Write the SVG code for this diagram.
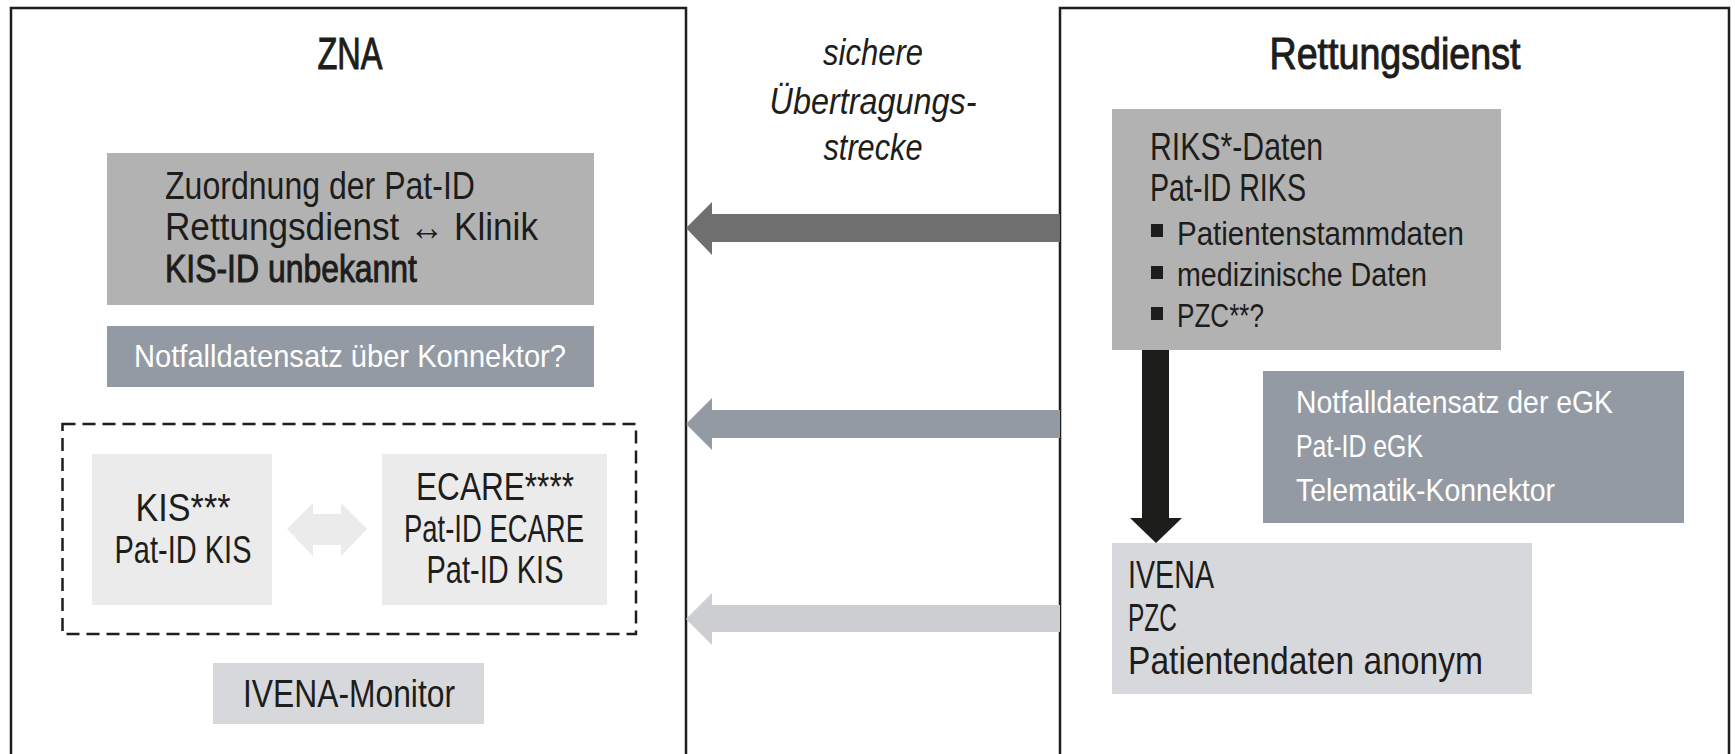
<svg xmlns="http://www.w3.org/2000/svg" width="1735" height="754" viewBox="0 0 1735 754">
<style>
  text { font-family: "Liberation Sans Narrow", "Liberation Sans", Arial, sans-serif; fill: #1d1d1b; }
  .frame { fill: none; stroke: #1d1d1b; stroke-width: 2.5; }
  .title { font-size: 44px; stroke: #1d1d1b; stroke-width: 1; }
  .semi { stroke: #1d1d1b; stroke-width: 1; }
  .body { font-size: 39px; }
  .bul { font-size: 34px; }
  .wt { fill: #ffffff; font-size: 32px; }
  .ital { font-size: 37px; font-style: italic; }
  .c { text-anchor: middle; }
  .g1 { fill: #b2b2b2; }
  .g2 { fill: #949aa3; }
  .g3 { fill: #d7d8dc; }
  .g4 { fill: #ebebeb; }
</style>

<g id="frame-zna">
  <path class="frame" d="M11,760 V8 H686 V760"/>
  <text class="title c" x="350" y="69" textLength="65" lengthAdjust="spacingAndGlyphs">ZNA</text>
</g>

<g id="frame-rettungsdienst">
  <path class="frame" d="M1060,760 V8 H1729 V760"/>
  <text class="title c" x="1395" y="69" textLength="251" lengthAdjust="spacingAndGlyphs">Rettungsdienst</text>
</g>

<g id="label-strecke">
  <text class="ital c" x="873" y="65" textLength="100" lengthAdjust="spacingAndGlyphs">sichere</text>
  <text class="ital c" x="873" y="114" textLength="207" lengthAdjust="spacingAndGlyphs">Übertragungs-</text>
  <text class="ital c" x="873" y="160" textLength="99" lengthAdjust="spacingAndGlyphs">strecke</text>
</g>

<g id="node-zuordnung">
  <rect class="g1" x="107" y="153" width="487" height="152"/>
  <text class="body" x="165" y="199" textLength="310" lengthAdjust="spacingAndGlyphs">Zuordnung der Pat-ID</text>
  <text class="body" x="165" y="240" textLength="373" lengthAdjust="spacingAndGlyphs">Rettungsdienst ↔ Klinik</text>
  <text class="body semi" x="165" y="282" textLength="252" lengthAdjust="spacingAndGlyphs">KIS-ID unbekannt</text>
</g>

<g id="node-notfall-konnektor">
  <rect class="g2" x="107" y="326" width="487" height="61"/>
  <text class="wt c" x="350" y="367" textLength="432" lengthAdjust="spacingAndGlyphs">Notfalldatensatz über Konnektor?</text>
</g>

<g id="group-kis-ecare">
  <rect x="62.5" y="424" width="573.5" height="210" fill="none" stroke="#1d1d1b" stroke-width="2.5" stroke-dasharray="13 7"/>
</g>

<g id="node-kis">
  <rect class="g4" x="92" y="454" width="180" height="151"/>
  <text class="body c" x="183" y="521" font-size="38" textLength="95" lengthAdjust="spacingAndGlyphs">KIS***</text>
  <text class="body c" x="183" y="563" font-size="38" textLength="137" lengthAdjust="spacingAndGlyphs">Pat-ID KIS</text>
</g>

<g id="node-ecare">
  <rect class="g4" x="382" y="454" width="225" height="151"/>
  <text class="body c" x="495" y="500" textLength="158" lengthAdjust="spacingAndGlyphs">ECARE****</text>
  <text class="body c" x="494" y="542" textLength="180" lengthAdjust="spacingAndGlyphs">Pat-ID ECARE</text>
  <text class="body c" x="495" y="583" textLength="137" lengthAdjust="spacingAndGlyphs">Pat-ID KIS</text>
</g>

<g id="node-ivena-monitor">
  <rect class="g3" x="213" y="663" width="271" height="61"/>
  <text class="body c" x="349" y="707" textLength="212" lengthAdjust="spacingAndGlyphs">IVENA-Monitor</text>
</g>

<g id="node-riks">
  <rect class="g1" x="1112" y="109" width="389" height="241"/>
  <text class="body" x="1150" y="160" textLength="173" lengthAdjust="spacingAndGlyphs">RIKS*-Daten</text>
  <text class="body" x="1150" y="201" textLength="156" lengthAdjust="spacingAndGlyphs">Pat-ID RIKS</text>
  <rect x="1151" y="224" width="12" height="13" fill="#1d1d1b"/>
  <text class="bul" x="1177" y="245" textLength="287" lengthAdjust="spacingAndGlyphs">Patientenstammdaten</text>
  <rect x="1151" y="266" width="12" height="13" fill="#1d1d1b"/>
  <text class="bul" x="1177" y="286" textLength="250" lengthAdjust="spacingAndGlyphs">medizinische Daten</text>
  <rect x="1151" y="307" width="12" height="13" fill="#1d1d1b"/>
  <text class="bul" x="1177" y="327" textLength="87" lengthAdjust="spacingAndGlyphs">PZC**?</text>
</g>

<g id="node-notfall-egk">
  <rect class="g2" x="1263" y="371" width="421" height="152"/>
  <text class="wt" x="1296" y="413" textLength="317" lengthAdjust="spacingAndGlyphs">Notfalldatensatz der eGK</text>
  <text class="wt" x="1296" y="457" textLength="127" lengthAdjust="spacingAndGlyphs">Pat-ID eGK</text>
  <text class="wt" x="1296" y="501" textLength="259" lengthAdjust="spacingAndGlyphs">Telematik-Konnektor</text>
</g>

<g id="node-ivena">
  <rect class="g3" x="1112" y="543" width="420" height="151"/>
  <text class="body" x="1128" y="588" textLength="86" lengthAdjust="spacingAndGlyphs">IVENA</text>
  <text class="body" x="1128" y="631" textLength="49" lengthAdjust="spacingAndGlyphs">PZC</text>
  <text class="body" x="1128" y="674" textLength="355" lengthAdjust="spacingAndGlyphs">Patientendaten anonym</text>
</g>

<g id="connectors">
  <polygon fill="#6f6f6f" points="686,228 712,202 712,214 1060,214 1060,242 712,242 712,255"/>
  <polygon fill="#949aa3" points="686,424 712,398 712,410 1060,410 1060,438 712,438 712,450"/>
  <polygon fill="#cdced2" points="686,619 712,593 712,605 1060,605 1060,632 712,632 712,645"/>
  <polygon fill="#1d1d1b" points="1142,350 1169,350 1169,518 1182,518 1156,543 1130,518 1142,518"/>
  <polygon fill="#ebebeb" points="287,529 313,503 313,514 341,514 341,503 367,529 341,556 341,545 313,545 313,556"/>
</g>
</svg>
